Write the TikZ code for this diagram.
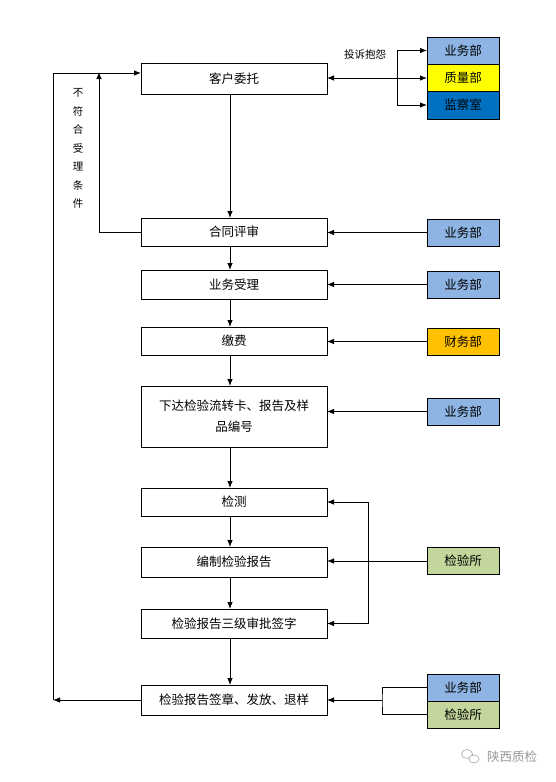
\documentclass[tikz,border=0pt]{standalone}
\usepackage{fontspec}
\newfontfamily\cjk{Noto Sans CJK SC}
\usetikzlibrary{arrows.meta}
\definecolor{ywb}{HTML}{8EB4E3}
\definecolor{zlb}{HTML}{FFFF00}
\definecolor{jcs}{HTML}{0070C0}
\definecolor{cwb}{HTML}{FFC000}
\definecolor{jys}{HTML}{C3D69B}
\tikzset{
  mainbox/.style={draw, line width=0.9pt, minimum width=186pt, inner sep=0pt, outer sep=0pt, font=\cjk\fontsize{12.5}{21}\selectfont, align=center},
  dept/.style={draw, line width=0.9pt, minimum width=72pt, minimum height=27pt, inner sep=0pt, outer sep=0pt, font=\cjk\fontsize{12.5}{15}\selectfont},
  conn/.style={line width=0.8pt},
  arr/.style={conn, -{Latex[length=7pt,width=5.5pt]}},
  lbl/.style={font=\cjk\fontsize{10.5}{18.5}\selectfont, align=center, inner sep=0pt}
}
\begin{document}
\begin{tikzpicture}[x=1pt,y=-1pt]
\useasboundingbox[fill=white] (0,0) rectangle (556,782);
% main column
\node[mainbox, minimum height=31pt] (c1) at (234,78.5) {客户委托};
\node[mainbox, minimum height=28pt] (c2) at (234,232) {合同评审};
\node[mainbox, minimum height=29pt] (c3) at (234,284.5) {业务受理};
\node[mainbox, minimum height=28pt] (c4) at (234,341) {缴费};
\node[mainbox, minimum height=61pt] (c5) at (234,416.5) {下达检验流转卡、报告及样\\品编号};
\node[mainbox, minimum height=28pt] (c6) at (234,502) {检测};
\node[mainbox, minimum height=30pt] (c7) at (234,562) {编制检验报告};
\node[mainbox, minimum height=29pt] (c8) at (234,623.5) {检验报告三级审批签字};
\node[mainbox, minimum height=30pt] (c9) at (234,700) {检验报告签章、发放、退样};
% departments
\node[dept, fill=ywb] (r1a) at (463,50.5) {业务部};
\node[dept, fill=zlb] (r1b) at (463,77.5) {质量部};
\node[dept, fill=jcs, minimum height=28pt] (r1c) at (463,105) {监察室};
\node[dept, fill=ywb] (r2) at (463,232.5) {业务部};
\node[dept, fill=ywb] (r3) at (463,284.5) {业务部};
\node[dept, fill=cwb] (r4) at (463,341.5) {财务部};
\node[dept, fill=ywb] (r5) at (463,411.5) {业务部};
\node[dept, fill=jys] (r6) at (463,561) {检验所};
\node[dept, fill=ywb] (r7a) at (463,687.5) {业务部};
\node[dept, fill=jys] (r7b) at (463,714.5) {检验所};
% labels
\node[lbl] (ts) at (365,55) {投诉抱怨};
\node[lbl] (bf) at (78,148.5) {不\\符\\合\\受\\理\\条\\件};
% helper coordinates
\coordinate (vx) at (230,0);
\coordinate (bx) at (397,78);
\coordinate (gx) at (368,561);
\coordinate (hx) at (382,700);
\coordinate (lin) at (99,232);
\coordinate (lint) at (99,73);
\coordinate (lout) at (53,700);
\coordinate (loutt) at (53,73);
% main flow
\draw[arr] (c1.south -| vx) -- (c2.north -| vx);
\draw[arr] (c2.south -| vx) -- (c3.north -| vx);
\draw[arr] (c3.south -| vx) -- (c4.north -| vx);
\draw[arr] (c4.south -| vx) -- (c5.north -| vx);
\draw[arr] (c5.south -| vx) -- (c6.north -| vx);
\draw[arr] (c6.south -| vx) -- (c7.north -| vx);
\draw[arr] (c7.south -| vx) -- (c8.north -| vx);
\draw[arr] (c8.south -| vx) -- (c9.north -| vx);
% top complaints
\draw[conn, {Latex[length=7pt,width=5.5pt]}-{Latex[length=7pt,width=5.5pt]}] (c1.east |- bx) -- (r1b.west |- bx);
\draw[arr] (bx) |- (r1a.west);
\draw[arr] (bx) |- (r1c.west);
% department inputs
\draw[arr] (r2.west) -- (r2.west -| c2.east);
\draw[arr] (r3.west) -- (r3.west -| c3.east);
\draw[arr] (r4.west) -- (r4.west -| c4.east);
\draw[arr] (r5.west) -- (r5.west -| c5.east);
\draw[arr] (r6.west) -- (r6.west -| c7.east);
\draw[arr] (gx) |- (c6.east);
\draw[arr] (gx) |- (c8.east);
\draw[conn] (r7a.west) -| (hx) |- (r7b.west);
\draw[arr] (hx) -- (c9.east);
% loops
\draw[arr] (c2.west |- lin) -- (lin) -- ([yshift=1pt]lint);
\draw[arr] (c9.west |- lout) -- (lout);
\draw[arr] (lout) -- (loutt) -- (c1.west |- loutt);
% watermark
\draw[gray!60, line width=0.7pt] (467,754) circle[x radius=5.5pt, y radius=4.5pt];
\draw[gray!60, line width=0.7pt, fill=white] (474,759) circle[x radius=5pt, y radius=4pt];
\node[font=\cjk\fontsize{12.5}{15}\selectfont, text=gray!80, inner sep=0pt] (wm) at (512,757) {陕西质检};
\end{tikzpicture}
\end{document}
